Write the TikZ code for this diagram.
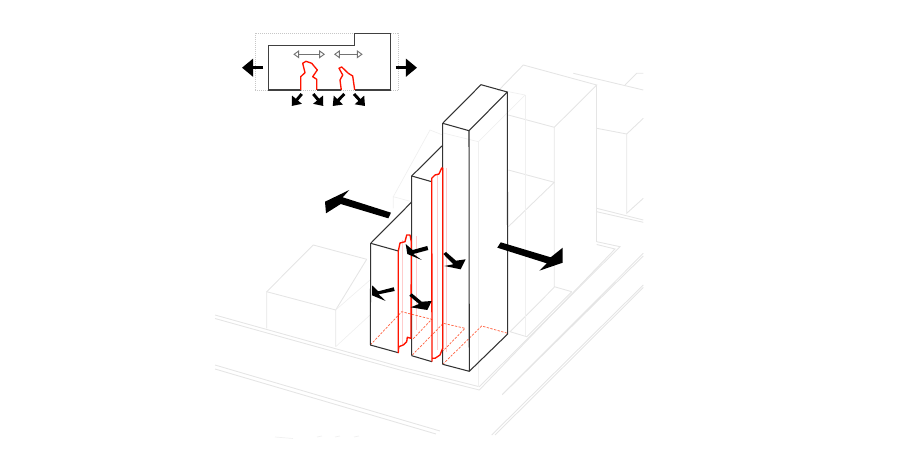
\documentclass[tikz,border=0pt]{standalone}
\usetikzlibrary{arrows.meta}

\begin{document}
\begin{tikzpicture}[
    x=0.03cm, y=-0.03cm,
    context/.style={draw=black!10, line width=0.75pt},
    fainter/.style={draw=black!6, line width=0.6pt},
    blockline/.style={draw=black!80, line width=0.9pt, line join=round},
    redline/.style={draw=red!85!orange, line width=1.15pt, line join=round},
    palered/.style={draw=red!20, line width=0.7pt},
    reddash/.style={draw=red!65!orange!75, line width=0.6pt, dash pattern=on 2pt off 1.2pt},
    flatarrow/.style={fill=black, draw=none},
    planline/.style={draw=black!75, line width=1.15pt},
    pusharrow/.style={-{Triangle[length=7pt,width=10.5pt]}, line width=2.5pt, black},
    sidearrow/.style={-{Triangle[length=9.5pt,width=15pt]}, line width=3pt, black},
    hollowarrow/.style={{Triangle[open,length=5pt,width=7pt]}-{Triangle[open,length=5pt,width=7pt]}, draw=black!55, line width=0.8pt}
]
\useasboundingbox (0,0) rectangle (900,460);

% Roads
\draw[context] (215,315) -- (400,366.7) -- (479.3,386.7) -- (620,246.7) -- (596.7,241.7);
\draw[context] (215,318.5) -- (400,370) -- (479.3,390) -- (615,249) -- (596.7,244.5);
\draw[context] (215,365) -- (440,431);
\draw[context] (215,369) -- (436,434);
\draw[context, rounded corners=1pt] (643.3,253.3) -- (501.7,395) -- (503.5,393.5) -- (643.3,256);
\draw[context] (643.3,285) -- (491.7,435);
\draw[context] (643.3,287.5) -- (495,435);
\draw[fainter] (275,437) -- (293,438.5);
\foreach \xbit in {317,335,354} {
    \draw[fainter] (\xbit,437) -- ++(5,-1);
}

% House
\draw[context] (266.7,328.3) -- (266.7,291.7) -- (335.7,310) -- (335.7,346.7);
\draw[context] (266.7,291.7) -- (313.3,245) -- (366.7,259.3);
\draw[context] (335.7,310) -- (366.7,259.3);
\draw[fainter] (335.7,310) -- (370,280);
\draw[fainter] (335.7,346.7) -- (370,315);

% Background buildings
\draw[context] (508.3,115) -- (554.3,127.3) -- (596.7,85) -- (523.3,65) -- (498,91);
\draw[context] (554.3,127.3) -- (554.3,286.7) -- (571.7,291.7);
\draw[context] (596.7,85) -- (596.7,241.7);
\draw[context] (508.3,170) -- (554.3,182.3) -- (508.3,226.7);
\draw[context] (554.3,287.3) -- (510,331.7) -- (526.7,336.7) -- (571.7,291.7);
\draw[fainter] (525,95) -- (525,336);
\draw[fainter] (507.5,91.5) -- (525,95);
\draw[fainter] (443,133) -- (478.3,141.7) -- (525,95);
\draw[fainter] (478.3,141.7) -- (478.3,386.7);
\draw[context] (596.7,128.3) -- (626.7,134) -- (643.3,118.3);
\draw[context] (626.7,134) -- (626.7,213.3) -- (643.3,198.3);
\draw[context] (573.3,73.3) -- (643.3,90);
\draw[context] (625,85) -- (636.7,73.3) -- (643.3,73.3);
\draw[context] (596.7,208.3) -- (643.3,220);
\draw[context] (596.7,211.7) -- (643.3,222.3);
\draw[fainter] (393.3,208.3) -- (393.3,196.7) -- (411.7,201.7);
\draw[fainter] (393.3,196.7) -- (430,130) -- (442.7,135);

% Pale red edges
\draw[palered] (402,240) -- (402,345);
\draw[palered] (416.7,236) -- (416.7,330);
\draw[palered] (437,175) -- (437,350);
\draw[palered] (446.7,168) -- (446.7,352);

% Floor outlines
\draw[reddash] (370.3,345) -- (401.7,311.7) -- (431.7,319.3) -- (412,340);
\draw[reddash] (412.3,355) -- (443.3,323.3) -- (465,328.3) -- (442,352);
\draw[reddash] (442.7,364.3) -- (481.7,326) -- (507.7,333.3);

% Blocks
\draw[blockline] (442.7,364.3) -- (442.7,123.3) -- (481,84.7) -- (507.3,92) -- (469,130.7) -- (442.7,123.3);
\draw[blockline] (469,130.7) -- (469.3,371.3) -- (442.7,364.3);
\draw[blockline] (507.3,92) -- (507.7,334) -- (469.3,371.3);
\draw[blockline] (411.7,355.7) -- (411.7,176) -- (442.7,145.3);
\draw[blockline] (411.7,176) -- (431.7,181.7);
\draw[blockline] (411.7,355.7) -- (432,361.7);
\draw[blockline] (370.3,345) -- (370.7,243.3) -- (411.7,202);
\draw[blockline] (370.7,243.3) -- (398.3,251);
\draw[blockline] (370.3,345) -- (398.3,352.7);

% Party walls
\draw[redline] (398.3,352.7) -- (398.7,346.7) -- (403.3,345) -- (406.7,341.7) -- (407.3,337.3) -- (411,338.3)
    -- (411.3,241.7) -- (410,235) -- (406.7,235) -- (405,241.7) -- (400,243) -- (398.3,251) -- cycle;
\draw[redline] (432,361.7) -- (431.7,181.7) -- (431.7,178.3) -- (435,175) -- (439,174) -- (441.7,168) -- (442.7,168)
    -- (442.7,348.3) -- (440,355) -- (435,358.3) -- (432,358.3);

% Side arrows
\fill[flatarrow] (372,285.3) -- (372,295.3) -- (385.7,301) -- (378.7,294.3) -- (394.7,291) -- (393.7,287.3) -- (378.3,291.3) -- cycle;
\fill[flatarrow] (405.7,244) -- (407.3,254) -- (421.7,260) -- (413.3,254) -- (428.3,250) -- (427.3,246) -- (412.7,250) -- cycle;
\fill[flatarrow] (443.3,254) -- (446,252) -- (456,260.7) -- (465.7,259.3) -- (460.7,269.3) -- (444.3,266) -- (453.3,264.3) -- cycle;
\fill[flatarrow] (409.3,295.7) -- (411.7,293.3) -- (421.7,301.7) -- (431.7,301) -- (427.3,310) -- (410.7,307.3) -- (419,304) -- cycle;
\fill[flatarrow] (325,201.7) -- (349.3,190) -- (342.7,197.3) -- (391,212.7) -- (388.3,218.3) -- (340.7,204) -- (326,213.3) -- cycle;
\fill[flatarrow] (500.7,242.3) -- (497.3,247.7) -- (546.7,263.3) -- (539.3,270.7) -- (562.7,262.7) -- (562.7,247.7) -- (550.7,257.3) -- cycle;

% Inset plan
\draw[black!22, line width=0.7pt, densely dotted] (255,90) -- (255,33.3) -- (398,33.3) -- (398,90) -- cycle;
\draw[planline] (300.7,90) -- (268.3,90) -- (268.3,45.7) -- (354.3,45.7) -- (354.3,33.7) -- (390.3,33.7) -- (390.3,90) -- (354.7,90);
\draw[planline] (316.7,90) -- (341.3,90);
\draw[hollowarrow] (293.3,54.3) -- (325,54.3);
\draw[hollowarrow] (334,54.3) -- (362.7,54.3);
\draw[redline] (300.7,90) -- (300.7,76.7) -- (305,72.7) -- (302.7,63.3) -- (306,61.3) -- (311.7,63.3) -- (317.3,70) -- (312.7,76.7) -- (316.7,79.3) -- (316.7,90);
\draw[redline] (341.3,90) -- (340,80) -- (342.7,75) -- (339,68.3) -- (341.7,67) -- (348.3,73.3) -- (352.7,76) -- (354.7,90);
\draw[sidearrow] (263,67.7) -- (242,67.7);
\draw[sidearrow] (395.7,67.7) -- (417,67.7);
\draw[pusharrow] (301.7,94) -- (291.7,106);
\draw[pusharrow] (313.3,94) -- (323.3,106);
\draw[pusharrow] (344.3,94) -- (332.7,106);
\draw[pusharrow] (354,94) -- (365,106);

\end{tikzpicture}
\end{document}
